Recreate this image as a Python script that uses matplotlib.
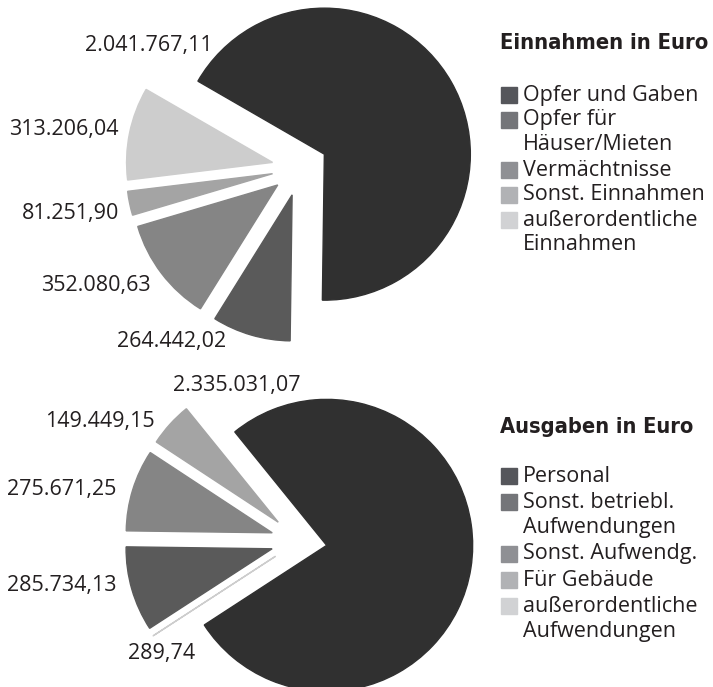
import matplotlib.pyplot as plt
from matplotlib import font_manager
from matplotlib.patches import Rectangle

# Einnahmen (legend order)
ein_labels = ['Opfer und Gaben', 'Opfer für\nHäuser/Mieten', 'Vermächtnisse',
              'Sonst. Einnahmen', 'außerordentliche\nEinnahmen']
ein_values = [2041767.11, 264442.02, 352080.63, 81251.90, 313206.04]
ein_texts = ['2.041.767,11', '264.442,02', '352.080,63', '81.251,90', '313.206,04']

# Ausgaben (legend order)
aus_labels = ['Personal', 'Sonst. betriebl.\nAufwendungen', 'Sonst. Aufwendg.',
              'Für Gebäude', 'außerordentliche\nAufwendungen']
aus_values = [2335031.07, 285734.13, 275671.25, 149449.15, 289.74]
aus_texts = ['2.335.031,07', '285.734,13', '275.671,25', '149.449,15', '289,74']
aus_order = [0, 4, 1, 2, 3]  # order of slices in the pie (clockwise)

pie_colors = ['#303030', '#5a5a5a', '#858585', '#a4a4a4', '#cdcdcd']
legend_colors = ['#55565b', '#747579', '#8f9094', '#b1b2b5', '#d1d2d4']
txt_color = '#231f20'

# look for a condensed bold face for the titles, else Open Sans
title_font = None
for f in font_manager.fontManager.ttflist:
    n = (f.name + ' ' + str(f.stretch)).lower()
    w = f.weight if isinstance(f.weight, int) else 700 if 'bold' in str(f.weight) else 400
    if ('condensed' in n or 'narrow' in n) and w >= 600:
        title_font = f.fname
        break

W, H = 713, 687
fig = plt.figure(figsize=(W / 100, H / 100), dpi=100)
ax = fig.add_axes([0, 0, 1, 1])
ax.set_xlim(0, W)
ax.set_ylim(0, H)
renderer = fig.canvas.get_renderer()


def draw_pie(values, order, center, start):
    vals = [values[i] for i in order]
    cols = [pie_colors[i] for i in order]
    wedges, _ = ax.pie(vals, colors=cols, startangle=start, counterclock=False,
                       explode=[28] * len(vals), radius=146,
                       center=(center[0], H - center[1]),
                       wedgeprops=dict(linewidth=1))
    for w in wedges:
        w.set_edgecolor(w.get_facecolor())


def draw_legend(title, labels, x, title_y, first_y, step, title_w):
    if title_font:
        t = ax.text(x, H - title_y, title, fontsize=17,
                    fontproperties=font_manager.FontProperties(fname=title_font, size=17),
                    color=txt_color, va='center', ha='left')
    else:
        t = ax.text(x, H - title_y, title, fontsize=17, fontweight='bold',
                    family='Open Sans', color=txt_color, va='center', ha='left')
    bw = t.get_window_extent(renderer).width
    if bw > title_w:
        t.set_fontsize(17 * title_w / bw)
    y = first_y
    for lab, col in zip(labels, legend_colors):
        ax.add_patch(Rectangle((x + 1, H - y - 8), 16, 16, color=col))
        for line in lab.split('\n'):
            ax.text(x + 23, H - y, line, fontsize=15.5, family='Open Sans',
                    color=txt_color, va='center', ha='left')
            y += step


draw_pie(ein_values, [0, 1, 2, 3, 4], (300, 168), 150)
draw_pie(aus_values, aus_order, (299, 541), 129)

# value labels
ein_pos = [(149, 46), (172, 342), (96, 285), (71, 213), (64, 129)]
aus_pos = [(237, 386), (62, 586), (62, 490), (100, 422), (162, 654)]
for t, (x, y) in zip(ein_texts, ein_pos):
    ax.text(x, H - y, t, fontsize=15.5, family='Open Sans', color=txt_color,
            ha='center', va='center')
for t, (x, y) in zip(aus_texts, aus_pos):
    ax.text(x, H - y, t, fontsize=15.5, family='Open Sans', color=txt_color,
            ha='center', va='center')

draw_legend('Einnahmen in Euro', ein_labels, 500, 43, 95, 25, 208)
draw_legend('Ausgaben in Euro', aus_labels, 500, 427, 476, 26, 194)

ax.set_xlim(0, W)
ax.set_ylim(0, H)
ax.set_aspect('auto')
ax.axis('off')

plt.savefig('out.png', dpi=100)
